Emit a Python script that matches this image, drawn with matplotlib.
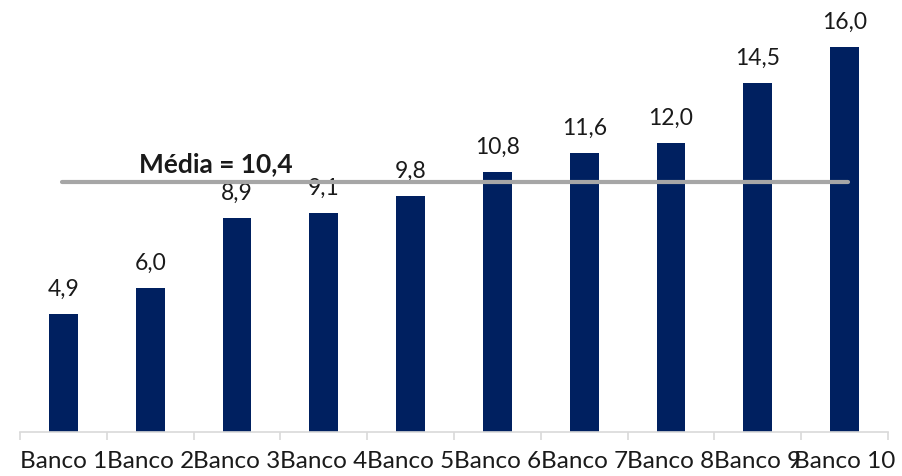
import numpy as np
import matplotlib.pyplot as plt

plt.rcParams['font.family'] = ['Lato', 'DejaVu Sans']

bancos = ['Banco 1', 'Banco 2', 'Banco 3', 'Banco 4', 'Banco 5',
          'Banco 6', 'Banco 7', 'Banco 8', 'Banco 9', 'Banco 10']
valores = [4.9, 6.0, 8.9, 9.1, 9.8, 10.8, 11.6, 12.0, 14.5, 16.0]
media = 10.4

fig = plt.figure(figsize=(9.02, 4.76), dpi=100)
ax = fig.add_axes([20 / 902, 1 - 432 / 476, 868 / 902, 432 / 476])

x = np.arange(len(bancos))
ax.bar(x, valores, width=0.33, color='#002060', zorder=2)

for xi, v in zip(x, valores):
    ax.annotate(f'{v:.1f}'.replace('.', ','), (xi, v), xytext=(0, 13),
                textcoords='offset points', ha='center', va='baseline',
                fontsize=16.5, color='#1a1a1a')

ax.plot([-0.02, 9.04], [media, media], color='#a6a6a6', lw=3,
        solid_capstyle='round', zorder=3)
ax.text(1.76, media + 0.42, f'Média = {media:.1f}'.replace('.', ','),
        ha='center', va='baseline', fontsize=19, fontweight='bold',
        color='#1a1a1a')

ax.set_xlim(-0.5, len(bancos) - 0.5)
ax.set_ylim(0, 16 * 432 / 385)

ax.set_xticks(x)
ax.set_xticklabels(bancos, fontsize=17.5, color='#1a1a1a')
ax.tick_params(axis='x', which='major', length=0, pad=14)
ax.set_xticks(np.arange(-0.5, len(bancos)), minor=True)
ax.tick_params(axis='x', which='minor', length=6, width=1.2, color='#d9d9d9')
ax.set_yticks([])

for s in ['left', 'top', 'right']:
    ax.spines[s].set_visible(False)
ax.spines['bottom'].set_color('#d9d9d9')
ax.spines['bottom'].set_linewidth(1.2)

fig.savefig('out.png', dpi=100)
